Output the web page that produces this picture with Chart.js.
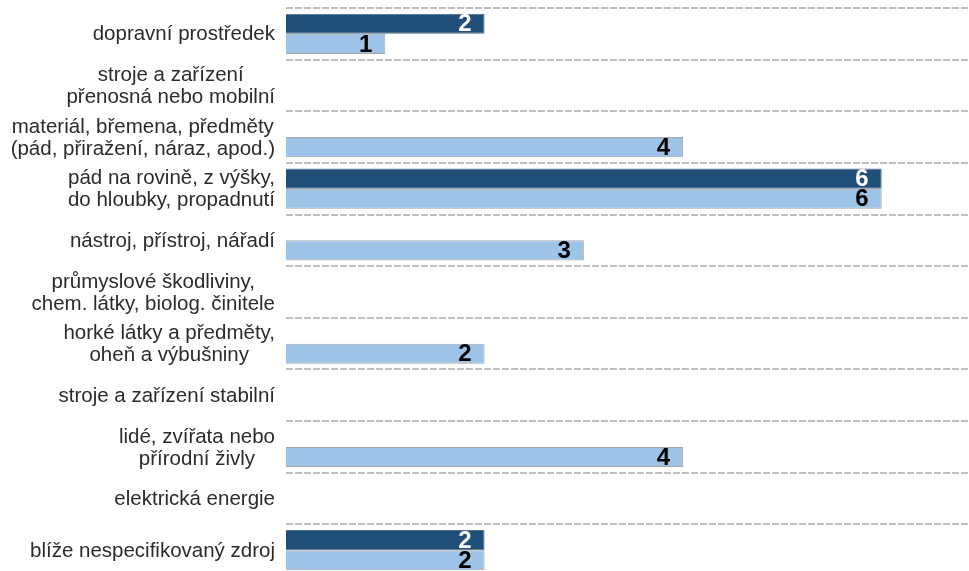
<!DOCTYPE html>
<html>
<head>
<meta charset="utf-8">
<script src="https://cdn.jsdelivr.net/npm/chart.js@4"></script>
<style>
  html, body { margin: 0; padding: 0; background: #fff; overflow: hidden; }
  #wrap { width: 969px; height: 571px; overflow: hidden; }
</style>
</head>
<body>
<div id="wrap"><canvas id="chart" width="981" height="576"></canvas></div>
<script>
const categories = [
  ['dopravní prostředek'],
  ['stroje a zařízení', 'přenosná nebo mobilní'],
  ['materiál, břemena, předměty', '(pád, přiražení, náraz, apod.)'],
  ['pád na rovině, z výšky,', 'do hloubky, propadnutí'],
  ['nástroj, přístroj, nářadí'],
  ['průmyslové škodliviny,', 'chem. látky, biolog. činitele'],
  ['horké látky a předměty,', 'oheň a výbušniny'],
  ['stroje a zařízení stabilní'],
  ['lidé, zvířata nebo', 'přírodní živly'],
  ['elektrická energie'],
  ['blíže nespecifikovaný zdroj']
]
const darkValues = [2, 0, 0, 6, 0, 0, 0, 0, 0, 0, 2]
const lightValues = [1, 0, 4, 6, 3, 0, 2, 0, 4, 0, 2]

document.addEventListener('DOMContentLoaded', () => {
  // category labels: lines centred inside each block, block right-aligned
  const categoryLabels = {
    id: 'categoryLabels',
    afterDraw(chart) {
      const { ctx } = chart
      const yScale = chart.scales.y
      const right = 275
      const lineHeight = 22
      ctx.save()
      ctx.font = '20.5px "Liberation Sans", Arial, sans-serif'
      ctx.fillStyle = '#2b2b2b'
      ctx.textAlign = 'center'
      ctx.textBaseline = 'middle'
      categories.forEach((lines, i) => {
        const y = yScale.getPixelForTick(i) + 1
        const blockWidth = Math.max(...lines.map(l => ctx.measureText(l).width))
        const cx = right - blockWidth / 2
        const top = y - (lines.length - 1) * lineHeight / 2
        lines.forEach((line, j) => {
          ctx.fillText(line, cx, top + j * lineHeight)
        })
      })
      ctx.restore()
    }
  }

  // value labels at the end of each bar
  const valueLabels = {
    id: 'valueLabels',
    afterDatasetsDraw(chart) {
      const { ctx } = chart
      const colors = ['#ffffff', '#000000']
      ctx.save()
      ctx.font = 'bold 24px "Liberation Sans", Arial, sans-serif'
      ctx.textAlign = 'right'
      ctx.textBaseline = 'middle'
      chart.data.datasets.forEach((ds, di) => {
        const meta = chart.getDatasetMeta(di)
        meta.data.forEach((bar, i) => {
          const v = ds.data[i]
          if (!v) return
          ctx.fillStyle = colors[di]
          ctx.fillText(String(v), bar.x - 13, bar.y + 1)
        })
      })
      ctx.restore()
    }
  }

  const data = {
    labels: categories,
    datasets: [
      {
        label: 'dark',
        data: darkValues,
        backgroundColor: '#1f4e79',
        borderColor: '#50708f',
        borderWidth: 1
      },
      {
        label: 'light',
        data: lightValues,
        backgroundColor: '#9dc3e6',
        borderColor: '#a6a6a6',
        borderWidth: 1
      }
    ]
  }

  new Chart(document.getElementById('chart'), {
    type: 'bar',
    data: data,
    options: {
      indexAxis: 'y',
      responsive: false,
      animation: false,
      devicePixelRatio: 1,
      categoryPercentage: 0.78,
      barPercentage: 1,
      layout: { padding: { top: 8, left: 0, right: 0, bottom: 0 } },
      plugins: {
        legend: { display: false },
        tooltip: { enabled: false }
      },
      scales: {
        x: {
          display: false,
          min: 0,
          max: 7
        },
        y: {
          afterFit: (scale) => { scale.width = 286 },
          ticks: { display: false },
          border: { display: false, dash: [7, 2] },
          grid: {
            offset: true,
            drawTicks: false,
            color: '#bfbfbf',
            lineWidth: 2,
            borderDash: [7, 2]
          }
        }
      }
    },
    plugins: [categoryLabels, valueLabels]
  })
})
</script>
</body>
</html>
